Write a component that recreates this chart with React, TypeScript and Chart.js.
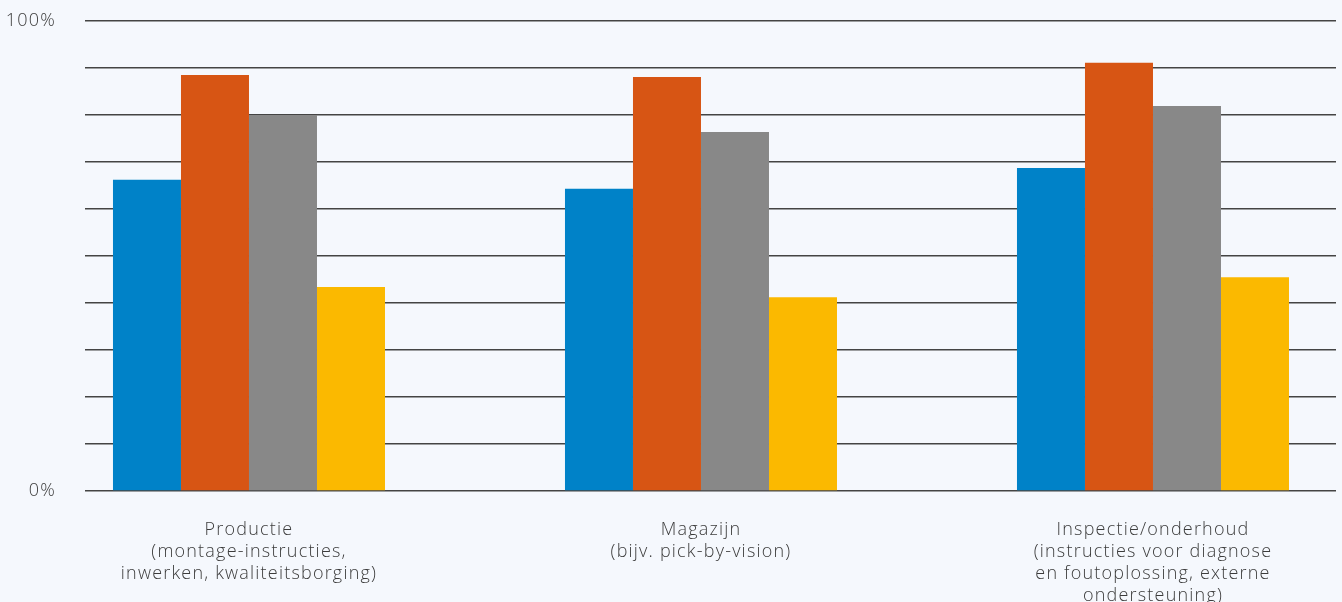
import React, { useEffect, useRef } from "react";
import { Chart, registerables } from "chart.js";

Chart.register(...registerables);

// Application areas (multi-line axis labels)
const categories: string[][] = [
  ["Productie", "(montage-instructies,", "inwerken, kwaliteitsborging)"],
  ["Magazijn", "(bijv. pick-by-vision)"],
  ["Inspectie/onderhoud", "(instructies voor diagnose", "en foutoplossing, externe", "ondersteuning)"],
];

// Four series, one value (in %) per application area
const seriesBlue = [66.2, 64.3, 68.7];
const seriesOrange = [88.5, 88.1, 91.1];
const seriesGray = [80, 76.4, 81.9];
const seriesYellow = [43.4, 41.2, 45.5];

const seriesColors = ["#0082c8", "#d75514", "#888888", "#fbb900"];

// Y-axis labels shown only at the ends
const yTickLabels: Record<number, string> = { 0: "0%", 100: "100%" };

const FONT = "'Open Sans', 'DejaVu Sans', sans-serif";

// Slightly wider letter spacing for all chart text
const letterSpacingPlugin = {
  id: "letterSpacing",
  beforeDraw(chart: any) {
    chart.ctx.letterSpacing = "1.2px";
  },
  afterDraw(chart: any) {
    chart.ctx.letterSpacing = "0px";
  },
};

export default function App() {
  const canvasRef = useRef<HTMLCanvasElement | null>(null);

  useEffect(() => {
    document.body.style.margin = "0";
    document.body.style.background = "#f5f8fd";
    if (!canvasRef.current) return;

    const toPoints = (vals: number[]) => vals.map((v, i) => ({ x: i, y: v }));
    const all = [seriesBlue, seriesOrange, seriesGray, seriesYellow];

    const chart = new Chart(canvasRef.current, {
      type: "bar",
      data: {
        datasets: all.map((vals, k) => ({
          label: `s${k + 1}`,
          data: toPoints(vals),
          backgroundColor: seriesColors[k],
          borderWidth: 0,
          categoryPercentage: 0.6018,
          barPercentage: 1,
        })),
      },
      plugins: [letterSpacingPlugin],
      options: {
        animation: false,
        responsive: true,
        maintainAspectRatio: false,
        layout: { padding: { top: 21, right: 6, bottom: 0, left: 0 } },
        plugins: {
          legend: { display: false },
          tooltip: { enabled: false },
        },
        scales: {
          x: {
            type: "linear",
            offset: false,
            min: -0.3628,
            max: 2.4049,
            grid: { display: false },
            border: { display: false },
            afterBuildTicks: (scale: any) => {
              scale.ticks = categories.map((_, i) => ({ value: i }));
            },
            afterFit: (scale: any) => {
              scale.height = 111;
              scale.paddingLeft = 0;
              scale.paddingRight = 0;
            },
            ticks: {
              autoSkip: false,
              maxRotation: 0,
              padding: 20,
              color: "#3c3c3c",
              font: { family: FONT, size: 18, weight: 300, lineHeight: 22 / 18 },
              callback: (_v: any, i: number) => categories[i],
            },
          },
          y: {
            min: 0,
            max: 100,
            grid: { color: "#444444", lineWidth: 1.5, drawTicks: false },
            border: { display: false },
            afterFit: (scale: any) => {
              scale.width = 85;
              scale.paddingTop = 11;
              scale.paddingBottom = 11;
            },
            ticks: {
              stepSize: 10,
              padding: 29,
              color: "#3c3c3c",
              font: { family: FONT, size: 18, weight: 300 },
              callback: (v: any) => yTickLabels[Number(v)] ?? "",
            },
          },
        },
      },
    } as any);

    return () => chart.destroy();
  }, []);

  return (
    <div style={{ width: 1342, height: 602, position: "relative", background: "#f5f8fd" }}>
      <canvas ref={canvasRef} />
    </div>
  );
}
